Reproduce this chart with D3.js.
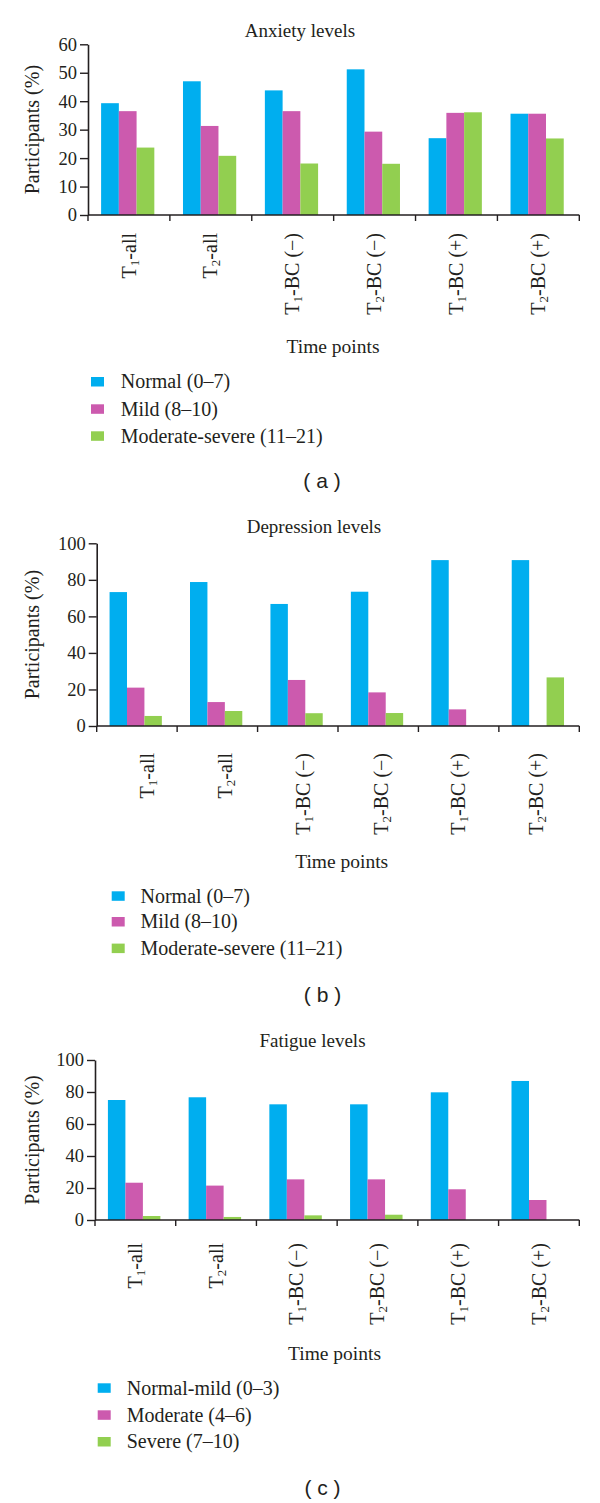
<!DOCTYPE html>
<html>
<head>
<meta charset="utf-8">
<script src="https://cdn.jsdelivr.net/npm/d3@7"></script>
<style>
  html, body { margin: 0; padding: 0; background: #fff; }
  svg { display: block; }
  text { font-family: "Liberation Serif", "Times New Roman", serif; fill: #231f20; }
</style>
</head>
<body>
<svg id="chart" width="600" height="1503"></svg>
<script>
// ---------- data ----------
const categories = ["T1-all", "T2-all", "T1-BC (\u2212)", "T2-BC (\u2212)", "T1-BC (+)", "T2-BC (+)"];
const seriesKeys = ["s1", "s2", "s3"];
const seriesColors = ["#00aeef", "#cc5aae", "#92cf50"];

const anxietyTitle = "Anxiety levels";
const anxietyLegend = ["Normal (0\u20137)", "Mild (8\u201310)", "Moderate-severe (11\u201321)"];
const anxietyNormal = [39.3, 47.0, 43.8, 51.2, 27.0, 35.6];
const anxietyMild = [36.5, 31.3, 36.5, 29.3, 35.9, 35.6];
const anxietyModSev = [23.7, 20.8, 18.1, 18.0, 36.1, 26.9];
const anxietyTicks = [0, 10, 20, 30, 40, 50, 60];

const depressionTitle = "Depression levels";
const depressionLegend = ["Normal (0\u20137)", "Mild (8\u201310)", "Moderate-severe (11\u201321)"];
const depressionNormal = [73.3, 78.8, 66.8, 73.5, 90.8, 90.8];
const depressionMild = [21.0, 13.1, 25.2, 18.4, 9.1, 0];
const depressionModSev = [5.5, 8.2, 7.0, 7.1, 0, 26.6];
const depressionTicks = [0, 20, 40, 60, 80, 100];

const fatigueTitle = "Fatigue levels";
const fatigueLegend = ["Normal-mild (0\u20133)", "Moderate (4\u20136)", "Severe (7\u201310)"];
const fatigueNormalMild = [75.0, 76.7, 72.3, 72.3, 79.8, 86.9];
const fatigueModerate = [23.3, 21.5, 25.4, 25.4, 19.2, 12.5];
const fatigueSevere = [2.5, 1.9, 2.9, 3.3, 0, 0];
const fatigueTicks = [0, 20, 40, 60, 80, 100];

const yLabel = "Participants (%)";
const xLabel = "Time points";

// ---------- layout ----------
const panels = [
  { title: anxietyTitle, legend: anxietyLegend, values: [anxietyNormal, anxietyMild, anxietyModSev],
    ticks: anxietyTicks, yMax: 60, tag: "a",
    x0: 88, x1: 579.3, yBottom: 215, yTop: 44.3,
    titleX: 300, titleY: 37.3,
    labelRange: null, labelTop: 233,
    xLabelX: 333, xLabelY: 352.7,
    legendSqX: 91, legendTextX: 120.7, legendY: [381.7, 409, 436],
    tagY: 488, tagX: 322 },
  { title: depressionTitle, legend: depressionLegend, values: [depressionNormal, depressionMild, depressionModSev],
    ticks: depressionTicks, yMax: 100, tag: "b",
    x0: 96.7, x1: 579.3, yBottom: 726, yTop: 543.3,
    titleX: 314, titleY: 533.3,
    labelRange: [147.5, 536.7], labelTop: 753,
    xLabelX: 341.7, xLabelY: 867.7,
    legendSqX: 111.7, legendTextX: 140.5, legendY: [896, 921.7, 948.3],
    tagY: 1001.7, tagX: 322.5 },
  { title: fatigueTitle, legend: fatigueLegend, values: [fatigueNormalMild, fatigueModerate, fatigueSevere],
    ticks: fatigueTicks, yMax: 100, tag: "c",
    x0: 95, x1: 579.3, yBottom: 1220, yTop: 1060,
    titleX: 312.5, titleY: 1047.3,
    labelRange: null, labelTop: 1243,
    xLabelX: 334.5, xLabelY: 1360,
    legendSqX: 97.7, legendTextX: 126.7, legendY: [1388, 1415, 1441.7],
    tagY: 1495, tagX: 322.5 }
];

const svg = d3.select("#chart");
const axisColor = "#231f20";

function addCategoryText(sel, label) {
  // label like "T1-all" -> T, subscript 1, rest
  const m = label.match(/^T(\d)(.*)$/);
  sel.append("tspan").text("T");
  sel.append("tspan").attr("font-size", "13px").attr("dy", "3").text(m[1]);
  sel.append("tspan").attr("dy", "-3").text(m[2]);
}

panels.forEach(p => {
  const g = svg.append("g");
  const x = d3.scaleBand().domain(categories).range([p.x0, p.x1]).paddingInner(0).paddingOuter(0);
  const bw = x.bandwidth();
  const xs = d3.scaleBand().domain(seriesKeys).range([bw * 0.16, bw * 0.81]).padding(0);
  const y = d3.scaleLinear().domain([0, p.yMax]).range([p.yBottom, p.yTop]);

  // bars
  seriesKeys.forEach((k, si) => {
    g.append("g").selectAll("rect")
      .data(categories.map((c, i) => ({ c, v: p.values[si][i] })))
      .join("rect")
      .attr("x", d => x(d.c) + xs(k))
      .attr("width", xs.bandwidth())
      .attr("y", d => y(d.v))
      .attr("height", d => y(0) - y(d.v))
      .attr("fill", seriesColors[si]);
  });

  // y axis
  const yAxis = d3.axisLeft(y).tickValues(p.ticks).tickSize(8).tickSizeOuter(0).tickPadding(3);
  const ya = g.append("g").attr("transform", `translate(${p.x0},0)`).call(yAxis);
  ya.select(".domain").attr("stroke", axisColor).attr("stroke-width", 1.6);
  ya.selectAll(".tick line").attr("stroke", axisColor).attr("stroke-width", 1.4);
  ya.selectAll(".tick text").attr("font-size", "18.5px")
    .attr("font-family", "'Liberation Serif', 'Times New Roman', serif").attr("fill", axisColor);

  // x axis line and ticks at band boundaries
  const bounds = categories.map(c => x(c)).concat([x.range()[1]]);
  g.append("line").attr("x1", p.x0).attr("x2", p.x1).attr("y1", y(0)).attr("y2", y(0))
    .attr("stroke", axisColor).attr("stroke-width", 1.6);
  g.append("g").selectAll("line").data(bounds).join("line")
    .attr("x1", d => d).attr("x2", d => d).attr("y1", y(0)).attr("y2", y(0) + 6)
    .attr("stroke", axisColor).attr("stroke-width", 1.4);

  // category labels (rotated)
  const lx = p.labelRange
    ? d3.scalePoint().domain(categories).range(p.labelRange)
    : (c => x(c) + bw / 2);
  categories.forEach(c => {
    const t = g.append("text")
      .attr("transform", `translate(${lx(c)},${p.labelTop}) rotate(-90)`)
      .attr("text-anchor", "end")
      .attr("dy", "0.33em")
      .attr("font-size", "20px");
    addCategoryText(t, c);
  });

  // title
  g.append("text").attr("x", p.titleX).attr("y", p.titleY).attr("text-anchor", "middle")
    .attr("font-size", "19px").text(p.title);

  // y label
  g.append("text")
    .attr("transform", `translate(32,${(p.yBottom + p.yTop) / 2}) rotate(-90)`)
    .attr("text-anchor", "middle").attr("dy", "0.33em")
    .attr("font-size", "20px").text(yLabel);

  // x label
  g.append("text").attr("x", p.xLabelX).attr("y", p.xLabelY).attr("text-anchor", "middle")
    .attr("font-size", "19.5px").text(xLabel);

  // legend
  p.legend.forEach((name, i) => {
    g.append("rect").attr("x", p.legendSqX).attr("y", p.legendY[i] - 4.7)
      .attr("width", 13).attr("height", 9.5).attr("fill", seriesColors[i]);
    g.append("text").attr("x", p.legendTextX).attr("y", p.legendY[i]).attr("dy", "0.33em")
      .attr("font-size", "20px").text(name);
  });

  // panel tag
  g.append("text").attr("x", p.tagX).attr("y", p.tagY).attr("text-anchor", "middle")
    .style("font-family", "'Liberation Sans', Arial, sans-serif")
    .attr("font-size", "21px").style("white-space", "pre")
    .text("( " + p.tag + " )");
});
</script>
</body>
</html>
